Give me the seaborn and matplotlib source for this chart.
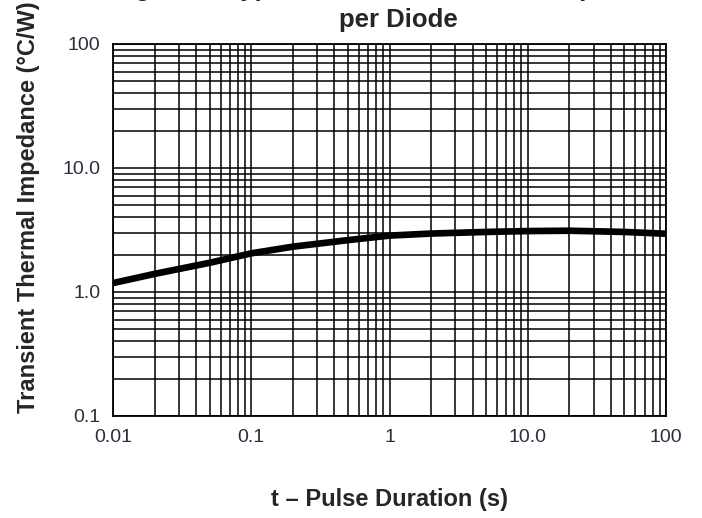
import matplotlib
matplotlib.use("Agg")
import matplotlib.pyplot as plt
import seaborn as sns
import pandas as pd
import numpy as np
from matplotlib.ticker import LogLocator, FixedLocator, FixedFormatter, NullFormatter

# Data
pulse_s = [0.01, 0.02, 0.05, 0.1, 0.2, 0.5, 1, 2, 5, 10, 20, 50, 100]
zth = [1.18, 1.40, 1.72, 2.05, 2.32, 2.62, 2.85, 2.96, 3.05, 3.10, 3.12, 3.05, 2.95]

x_ticks = [0.01, 0.1, 1, 10, 100]
x_labels = ["0.01", "0.1", "1", "10.0", "100"]
y_ticks = [0.1, 1, 10, 100]
y_labels = ["0.1", "1.0", "10.0", "100"]

title_line1 = "Figure 7. Typical Transient Thermal Impedance"
title_line2 = "per Diode"
x_label = "t \u2013 Pulse Duration (s)"
y_label = "Transient Thermal Impedance (\u00b0C/W)"

sns.set_theme(style="white")
plt.rcParams['font.family'] = ['Liberation Sans', 'DejaVu Sans']

df = pd.DataFrame({"t": pulse_s, "z": zth})

fig = plt.figure(figsize=(7.02, 5.18), dpi=100)
ax = fig.add_axes([113/702, (518-416)/518, (666-113)/702, (416-44)/518])

ax.set_xscale("log")
ax.set_yscale("log")
ax.set_xlim(0.01, 100)
ax.set_ylim(0.1, 100)

ax.xaxis.set_major_locator(FixedLocator(x_ticks))
ax.xaxis.set_major_formatter(FixedFormatter(x_labels))
ax.yaxis.set_major_locator(FixedLocator(y_ticks))
ax.yaxis.set_major_formatter(FixedFormatter(y_labels))
ax.xaxis.set_minor_locator(LogLocator(base=10, subs=np.arange(2, 10)))
ax.yaxis.set_minor_locator(LogLocator(base=10, subs=np.arange(2, 10)))
ax.xaxis.set_minor_formatter(NullFormatter())
ax.yaxis.set_minor_formatter(NullFormatter())

ax.grid(True, which="both", color="black", linewidth=1.1)
ax.set_axisbelow(True)
for s in ax.spines.values():
    s.set_color("black")
    s.set_linewidth(1.3)
ax.tick_params(which="both", length=0, labelsize=14, labelcolor="#2e2e3e")
ax.tick_params(axis="x", pad=9)
ax.tick_params(axis="y", pad=9)

sns.lineplot(data=df, x="t", y="z", ax=ax, color="black", linewidth=4.8, zorder=5)

ax.set_xlabel(x_label, fontsize=17, fontweight="bold")
ax.xaxis.set_label_coords(0.5, -(488-416)/372)
ax.set_ylabel(y_label, fontsize=17, fontweight="bold")
ax.yaxis.set_label_coords(-(113-40)/553, (416-207)/372)

cx = 398 / 702
fig.text(cx, 1 + 4/518, title_line1, ha="center", va="baseline", fontsize=18.5, fontweight="bold")
fig.text(cx, 1 - 27/518, title_line2, ha="center", va="baseline", fontsize=18.5, fontweight="bold")

fig.savefig("out.png", dpi=100)
